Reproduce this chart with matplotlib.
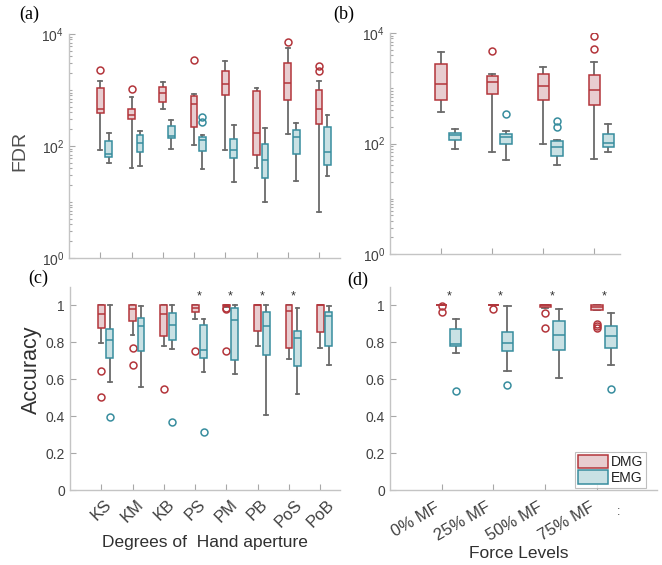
import matplotlib
matplotlib.use('Agg')
import matplotlib.pyplot as plt
from matplotlib.ticker import LogLocator, NullFormatter
import numpy as np

plt.rcParams['font.family'] = ['Liberation Sans', 'DejaVu Sans']

# categories
hand = ['KS', 'KM', 'KB', 'PS', 'PM', 'PB', 'PoS', 'PoB']
force = ['0% MF', '25% MF', '50% MF', '75% MF']

# box summaries per category: [whisker low, q1, median, q3, whisker high]
fdr_hand_dmg = [[86, 390, 450, 1090, 1470], [40, 300, 355, 457, 750],
                [457, 615, 885, 1130, 1390], [103, 217, 565, 780, 850],
                [83, 815, 1260, 2180, 3240], [40, 70, 173, 960, 1090],
                [166, 675, 1350, 3090, 5700], [6.5, 250, 450, 990, 1420]]
fdr_hand_dmg_out = [[2240], [1025], [], [3470], [], [], [7200], [2180, 2700]]
fdr_hand_emg = [[50, 63, 71, 123, 170], [44, 77, 115, 157, 188],
                [88, 141, 149, 224, 295], [39, 80, 126, 145, 155],
                [23, 61, 86, 135, 235], [9.8, 27, 57, 107, 212],
                [24, 71, 143, 195, 262], [29, 46, 79, 215, 362]]
fdr_hand_emg_out = [[], [], [], [268, 330], [], [], [], []]

fdr_force_dmg = [[377, 605, 1190, 2730, 4450], [71, 800, 1320, 1700, 1820],
                 [100, 620, 1100, 1820, 2450], [52, 500, 920, 1730, 2930]]
fdr_force_dmg_out = [[], [4700], [], [5200, 8900]]
fdr_force_emg = [[81, 116, 140, 152, 180], [51, 100, 130, 148, 165],
                 [40, 60, 87, 110, 118], [71, 87, 103, 146, 228]]
fdr_force_emg_out = [[], [340], [198, 255], []]

acc_hand_dmg = [[0.793, 0.876, 0.951, 1.0, 1.0], [0.84, 0.915, 0.98, 1.0, 1.0],
                [0.778, 0.831, 0.951, 1.0, 1.0], [0.926, 0.962, 0.987, 1.0, 1.0],
                [0.99, 0.995, 1.0, 1.0, 1.0], [0.778, 0.861, 1.0, 1.0, 1.0],
                [0.71, 0.769, 0.971, 1.0, 1.0], [0.766, 0.854, 1.0, 1.0, 1.0]]
acc_hand_dmg_out = [[0.645, 0.505], [0.771, 0.676], [0.548], [0.751],
                    [0.985, 0.978, 0.751], [], [], []]
acc_hand_emg = [[0.582, 0.715, 0.811, 0.874, 1.0], [0.56, 0.751, 0.886, 0.932, 0.995],
                [0.764, 0.813, 0.892, 0.959, 1.0], [0.636, 0.715, 0.76, 0.894, 0.926],
                [0.629, 0.706, 0.922, 0.986, 1.0], [0.405, 0.73, 0.886, 0.964, 1.0],
                [0.519, 0.672, 0.823, 0.861, 0.986], [0.679, 0.778, 0.942, 0.962, 0.995]]
acc_hand_emg_out = [[0.395], [], [0.366], [0.315], [], [], [], []]
acc_hand_sig = [False, False, False, True, True, True, True, False]

acc_force_dmg = [[1.0, 1.0, 1.0, 1.0, 1.0], [1.0, 1.0, 1.0, 1.0, 1.0],
                 [0.985, 0.991, 1.0, 1.0, 1.0], [0.975, 0.975, 0.99, 1.0, 1.0]]
acc_force_dmg_out = [[0.997, 0.964], [0.98], [0.959, 0.877], [0.9, 0.888, 0.877]]
acc_force_emg = [[0.742, 0.782, 0.789, 0.874, 0.924], [0.643, 0.751, 0.798, 0.856, 0.996],
                 [0.604, 0.76, 0.841, 0.915, 0.977], [0.676, 0.766, 0.832, 0.886, 0.96]]
acc_force_emg_out = [[0.535], [0.566], [], [0.546]]
acc_force_sig = [True, True, True, True]

DMG_EDGE, DMG_FACE = '#b3353b', '#e8cdd0'
EMG_EDGE, EMG_FACE = '#378d9e', '#c9e1e4'
WHISK = '#6a6a6a'
AXIS = '#c4c4c4'
TXT = '#404040'
OFFSET = 0.27
WIDTH = 0.22


def draw_boxes(ax, summary, outliers, pos, edge, face):
    stats = []
    for s, o in zip(summary, outliers):
        stats.append(dict(whislo=s[0], q1=s[1], med=s[2], q3=s[3], whishi=s[4], fliers=o))
    art = ax.bxp(stats, positions=pos, widths=WIDTH, capwidths=0.12, patch_artist=True,
                 manage_ticks=False,
                 boxprops=dict(facecolor=face, edgecolor=edge, linewidth=1.1),
                 medianprops=dict(color=edge, linewidth=1.1),
                 whiskerprops=dict(color=WHISK, linewidth=1.3),
                 capprops=dict(color=WHISK, linewidth=1.3),
                 flierprops=dict(marker='o', markerfacecolor='none', markeredgecolor=edge,
                                 markersize=5, markeredgewidth=1.1))
    for b in art['boxes']:
        b.set_zorder(3)
    for m in art['medians']:
        m.set_zorder(4)
    return art


def style_axes(ax):
    for side in ['top', 'right']:
        ax.spines[side].set_visible(False)
    for side in ['left', 'bottom']:
        ax.spines[side].set_color(AXIS)
        ax.spines[side].set_linewidth(1.0)
    ax.tick_params(which='both', direction='in', color='#a8a8a8', labelcolor=TXT)
    ax.tick_params(which='major', length=4, labelsize=10)
    ax.tick_params(which='minor', length=2.5, width=0.8)


fig = plt.figure(figsize=(6.62, 5.65), dpi=100)
ax_a = fig.add_axes([0.1042, 0.5434, 0.4094, 0.3965])
ax_b = fig.add_axes([0.5891, 0.5504, 0.3474, 0.3912])
ax_c = fig.add_axes([0.1057, 0.1327, 0.4079, 0.3598])
ax_d = fig.add_axes([0.5891, 0.1327, 0.4033, 0.3598])

# FDR panels
for ax, dmg, dmg_o, emg, emg_o, n, xmax in [
        (ax_a, fdr_hand_dmg, fdr_hand_dmg_out, fdr_hand_emg, fdr_hand_emg_out, len(hand), 8.67),
        (ax_b, fdr_force_dmg, fdr_force_dmg_out, fdr_force_emg, fdr_force_emg_out, len(force), 4.5)]:
    x = np.arange(1, n + 1)
    draw_boxes(ax, dmg, dmg_o, x, DMG_EDGE, DMG_FACE)
    draw_boxes(ax, emg, emg_o, x + OFFSET, EMG_EDGE, EMG_FACE)
    ax.set_yscale('log')
    ax.set_ylim(1, 1e4)
    ax.set_yticks([1, 1e2, 1e4])
    ax.yaxis.set_minor_locator(LogLocator(base=10, subs=np.arange(1, 10), numticks=30))
    ax.yaxis.set_minor_formatter(NullFormatter())
    ax.set_xlim(0, xmax)
    ax.set_xticks(x)
    ax.set_xticklabels([])
    style_axes(ax)

# accuracy panels
panels = [(ax_c, acc_hand_dmg, acc_hand_dmg_out, acc_hand_emg, acc_hand_emg_out,
           acc_hand_sig, hand, 8.63),
          (ax_d, acc_force_dmg, acc_force_dmg_out, acc_force_emg, acc_force_emg_out,
           acc_force_sig, force, 5.16)]
legend_boxes = None
for ax, dmg, dmg_o, emg, emg_o, sig, labels, xmax in panels:
    x = np.arange(1, len(labels) + 1)
    d_art = draw_boxes(ax, dmg, dmg_o, x, DMG_EDGE, DMG_FACE)
    e_art = draw_boxes(ax, emg, emg_o, x + OFFSET, EMG_EDGE, EMG_FACE)
    legend_boxes = (d_art['boxes'][0], e_art['boxes'][0])
    for xi, s in zip(x, sig):
        if s:
            ax.text(xi + OFFSET / 2, 1.045, '*', ha='center', va='center',
                    fontsize=9, color='#333333')
    ax.set_ylim(0, 1.1)
    ax.set_yticks([0, 0.2, 0.4, 0.6, 0.8, 1.0])
    ax.set_yticklabels(['0', '0.2', '0.4', '0.6', '0.8', '1'])
    ax.set_xlim(0, xmax)
    ax.set_xticks(x)
    style_axes(ax)

ax_c.set_xticklabels(hand, rotation=45, fontsize=12)
ax_c.tick_params(axis='x', pad=5)
ax_d.set_xticklabels(force, rotation=30, ha='right', fontsize=12)
ax_d.tick_params(axis='x', pad=7)
ax_d.text(4.42, -0.12, ':', ha='center', va='center', fontsize=9, color=TXT)

leg = ax_d.legend(legend_boxes, ['DMG', 'EMG'], loc='lower right',
                  bbox_to_anchor=(0.96, 0.012), fontsize=10, frameon=True, fancybox=False,
                  handlelength=2.2, handleheight=1.1, handletextpad=0.2,
                  borderpad=0.2, labelspacing=0.1, borderaxespad=0)
leg.get_frame().set_edgecolor('#b0b0b0')
leg.get_frame().set_linewidth(0.8)
for t in leg.get_texts():
    t.set_color('#202020')

# axis titles
fig.text(20 / 662, 1 - 151 / 565, 'FDR', rotation=90, ha='center', va='center',
         fontsize=14, color='#505050')
fig.text(31 / 662, 1 - 370 / 565, 'Accuracy', rotation=90, ha='center', va='center',
         fontsize=15.5, color='#303030')
fig.text(205 / 662, 1 - 542 / 565, 'Degrees of  Hand aperture', ha='center', va='center',
         fontsize=12.5, color='#303030')
fig.text(519 / 662, 1 - 553 / 565, 'Force Levels', ha='center', va='center',
         fontsize=12.5, color='#303030')

# panel tags
for lbl, px, py in [('(a)', 29, 14), ('(b)', 344, 14), ('(c)', 38, 278), ('(d)', 358, 280)]:
    fig.text(px / 662, 1 - py / 565, lbl, ha='center', va='center', fontsize=13,
             family='Liberation Serif', color='black')

fig.savefig('out.png', dpi=100)
